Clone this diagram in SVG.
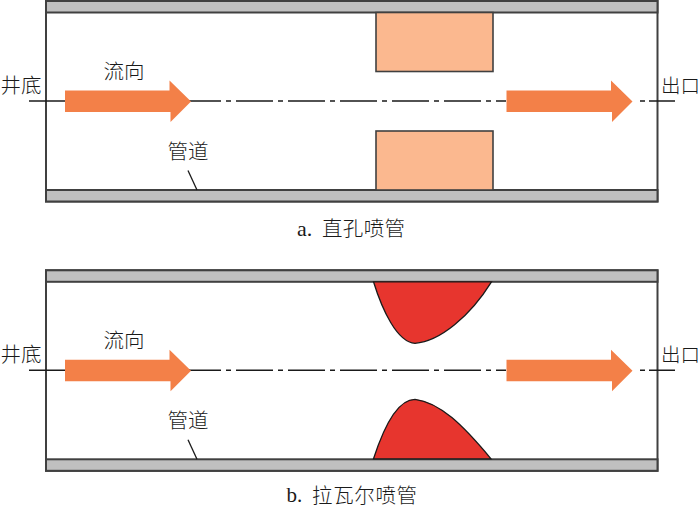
<svg xmlns="http://www.w3.org/2000/svg" width="700" height="506" viewBox="0 0 700 506">
<style>
text{font-family:"Liberation Serif","Noto Sans CJK SC",serif;font-size:20.500px;font-weight:300;fill:#1a1a1a}
.exit{font-size:19.500px}
.lat{font-size:22px}
.band{fill:#c0c0c0;stroke:#404040;stroke-width:2}
.wall{fill:none;stroke:#404040;stroke-width:2}
.ln{fill:none;stroke:#1a1a1a;stroke-width:1.4}
.dash{stroke-dasharray:37 5 5 5}
.flow{fill:#f38048}
.lead{fill:none;stroke:#1a1a1a;stroke-width:1.3}
.hole{fill:#fbb88f;stroke:#404040;stroke-width:1.6}
.lav{fill:#e7352e;stroke:#1a1a1a;stroke-width:1.3}
</style>
<defs>
<g id="pipe">
<rect class="wall" x="46" y="1" width="611.500" height="200.500"/>
<rect class="band" x="46" y="1" width="611.500" height="11.500"/>
<rect class="band" x="46" y="190" width="611.500" height="11.500"/>
</g>
<g id="axis">
<path class="ln" d="M29 101H190"/>
<path class="ln dash" d="M184 101H506"/>
<path class="ln" d="M640 101H645M649 101H675"/>
</g>
<path id="arrow" d="M0 -10.500H104.500V-20.500L126 0.500L105.500 21V11H0Z"/>
</defs>
<g id="panel-a">
<g id="pipe-a"><use href="#pipe"/></g>
<g id="nozzle-a">
<rect class="hole" x="376" y="12.500" width="117" height="59"/>
<rect class="hole" x="376" y="131" width="117" height="59"/>
</g>
</g>
<g id="connectors-a">
<use href="#axis"/>
<use href="#arrow" class="flow" x="65" y="101"/>
<use href="#arrow" class="flow" x="506.500" y="101"/>
<path class="lead" d="M188 170.500L197 190"/>
</g>
<g id="labels-a">
<text x="0.500" y="92.500">井底</text>
<text x="103.500" y="78.500">流向</text>
<text x="167.500" y="159">管道</text>
<text class="exit" x="661" y="92.500">出口</text>
<text class="lat" x="297" y="236">a.</text>
<text x="322" y="235.500" textLength="83">直孔喷管</text>
</g>
<g id="panel-b" transform="translate(0 269.300)">
<g id="pipe-b"><use href="#pipe"/></g>
<g id="nozzle-b">
<path class="lav" d="M373.500 12.500H491.500C470 47 440 72 415 74C397 73 382 40 373.500 12.500Z"/>
<path class="lav" d="M373.500 189.500C384 157 398 130 415 130C440 133 463 156 491 189.500Z"/>
</g>
<g id="connectors-b">
<use href="#axis"/>
<use href="#arrow" class="flow" x="65" y="101"/>
<use href="#arrow" class="flow" x="506.500" y="101"/>
<path class="lead" d="M188 170.500L197 190"/>
</g>
<g id="labels-b">
<text x="0.500" y="92.500">井底</text>
<text x="103.500" y="78.500">流向</text>
<text x="167.500" y="159">管道</text>
<text class="exit" x="661" y="92.500">出口</text>
</g>
</g>
<text id="caption-b" x="286.500" y="501.500" font-size="21" style="font-size:21px">b.</text>
<text id="caption-b2" x="312" y="503" textLength="105">拉瓦尔喷管</text>
</svg>
